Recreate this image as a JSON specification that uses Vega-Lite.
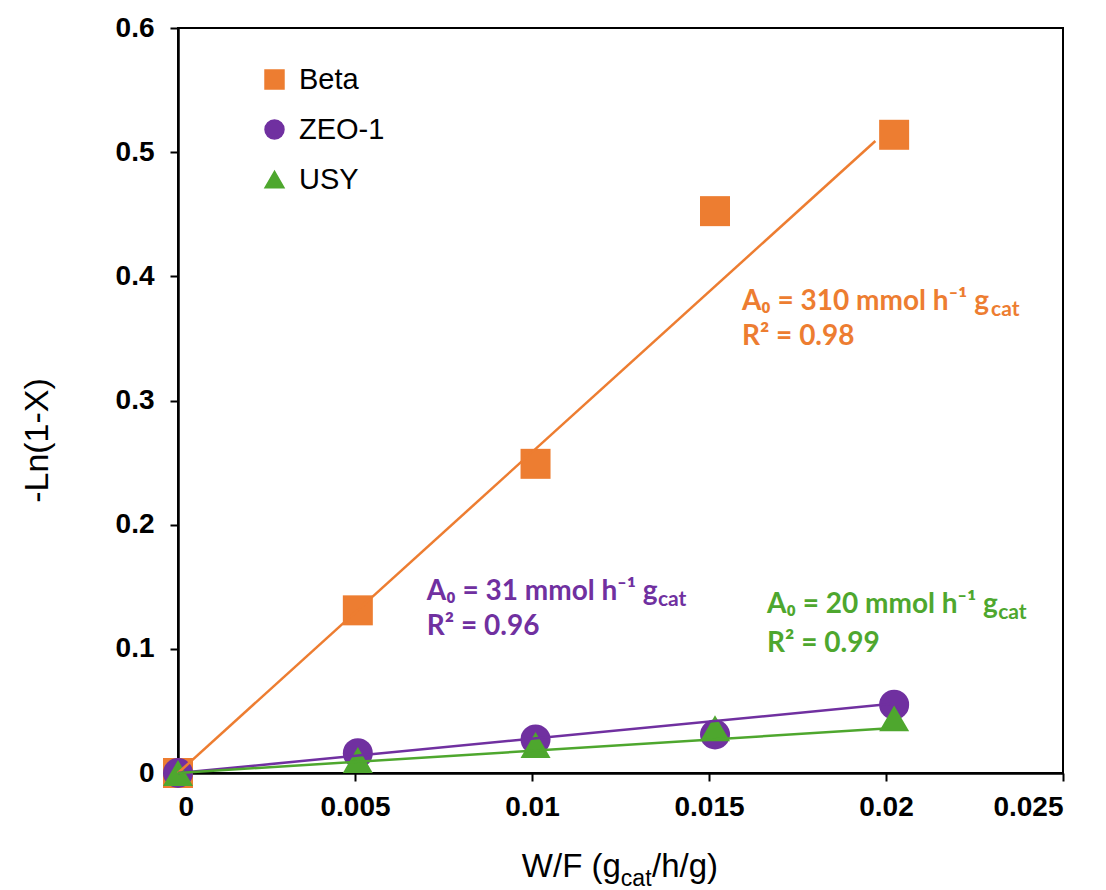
{
  "$schema": "https://vega.github.io/schema/vega-lite/v6.json",
  "width": 885,
  "height": 745,
  "autosize": "none",
  "padding": {"left": 178, "top": 28, "right": 43, "bottom": 117},
  "background": "white",
  "config": {
    "font": "Liberation Sans",
    "view": {"stroke": "black", "strokeWidth": 2},
    "axis": {
      "grid": false,
      "domainColor": "black",
      "domainWidth": 2.5,
      "tickColor": "black",
      "tickWidth": 2,
      "tickSize": 8,
      "labelColor": "black",
      "labelFont": "Liberation Sans",
      "labelFontWeight": "bold",
      "labelFontSize": 28,
      "titleColor": "black",
      "titleFont": "Liberation Sans",
      "titleFontWeight": "normal",
      "titleFontSize": 34
    },
    "legend": {"labelFont": "Liberation Sans", "labelFontSize": 29, "labelColor": "black"}
  },
  "datasets": {
    "points": [
      {"series": "Beta", "wf": 0, "val": 0},
      {"series": "Beta", "wf": 0.00508, "val": 0.131},
      {"series": "Beta", "wf": 0.0101, "val": 0.249},
      {"series": "Beta", "wf": 0.01517, "val": 0.4525},
      {"series": "Beta", "wf": 0.02023, "val": 0.514},
      {"series": "ZEO-1", "wf": 0, "val": 0},
      {"series": "ZEO-1", "wf": 0.00508, "val": 0.016},
      {"series": "ZEO-1", "wf": 0.0101, "val": 0.027},
      {"series": "ZEO-1", "wf": 0.01517, "val": 0.031},
      {"series": "ZEO-1", "wf": 0.02023, "val": 0.055},
      {"series": "USY", "wf": 0, "val": 0},
      {"series": "USY", "wf": 0.00508, "val": 0.0105},
      {"series": "USY", "wf": 0.0101, "val": 0.0225},
      {"series": "USY", "wf": 0.01517, "val": 0.036},
      {"series": "USY", "wf": 0.02023, "val": 0.044}
    ],
    "fits": [
      {"series": "Beta", "wf": 0, "val": 0},
      {"series": "Beta", "wf": 0.0197, "val": 0.509},
      {"series": "ZEO-1", "wf": 0, "val": 0},
      {"series": "ZEO-1", "wf": 0.0201, "val": 0.0555},
      {"series": "USY", "wf": 0, "val": 0},
      {"series": "USY", "wf": 0.0201, "val": 0.036}
    ],
    "notes": [
      {"series": "Beta", "jx": 0.02294, "sx": 0.01593, "y1": 0.3728, "y2": 0.3446, "main": "A₀ = 310 mmol h⁻¹ g", "sub": "cat", "r2": "R² = 0.98"},
      {"series": "ZEO-1", "jx": 0.01353, "sx": 0.00703, "y1": 0.1393, "y2": 0.1111, "main": "A₀ = 31 mmol h⁻¹ g", "sub": "cat", "r2": "R² = 0.96"},
      {"series": "USY", "jx": 0.02314, "sx": 0.01664, "y1": 0.1288, "y2": 0.0974, "main": "A₀ = 20 mmol h⁻¹ g", "sub": "cat", "r2": "R² = 0.99"}
    ],
    "xtitle": [
      {"jx": 0.01251, "ex": 0.01339, "y": -0.0837, "main": "W/F (g", "sub": "cat", "tail": "/h/g)"}
    ]
  },
  "layer": [
    {
      "data": {"name": "points"},
      "mark": {"type": "point", "filled": true, "opacity": 1, "size": 900},
      "encoding": {
        "x": {
          "field": "wf", "type": "quantitative",
          "scale": {"domain": [0, 0.025], "nice": false, "zero": false},
          "axis": {"values": [0, 0.005, 0.01, 0.015, 0.02, 0.025], "format": "~g", "title": null, "labelPadding": 12}
        },
        "y": {
          "field": "val", "type": "quantitative",
          "scale": {"domain": [0, 0.6], "nice": false},
          "axis": {"values": [0, 0.1, 0.2, 0.3, 0.4, 0.5, 0.6], "format": "~g", "title": "-Ln(1-X)", "labelPadding": 16, "titleX": -124, "titleY": 412, "titleAngle": -90, "titleAlign": "center", "titleBaseline": "bottom"}
        },
        "color": {
          "field": "series", "type": "nominal",
          "scale": {"domain": ["Beta", "ZEO-1", "USY"], "range": ["#ED7D31", "#7030A0", "#4EA72E"]},
          "legend": {
            "title": null, "orient": "none", "legendX": 82, "legendY": 37,
            "symbolSize": 360, "rowPadding": 20, "labelOffset": 10, "symbolOpacity": 1
          }
        },
        "shape": {
          "field": "series", "type": "nominal",
          "scale": {"domain": ["Beta", "ZEO-1", "USY"], "range": ["square", "circle", "triangle-up"]},
          "legend": {
            "title": null, "orient": "none", "legendX": 82, "legendY": 37,
            "symbolSize": 360, "rowPadding": 20, "labelOffset": 10, "symbolOpacity": 1
          }
        }
      }
    },
    {
      "data": {"name": "fits"},
      "mark": {"type": "line", "strokeWidth": 2.5},
      "encoding": {
        "x": {"field": "wf", "type": "quantitative"},
        "y": {"field": "val", "type": "quantitative"},
        "detail": {"field": "series"},
        "stroke": {
          "field": "series", "type": "nominal",
          "scale": {"domain": ["Beta", "ZEO-1", "USY"], "range": ["#ED7D31", "#7030A0", "#4EA72E"]},
          "legend": null
        }
      }
    },
    {
      "data": {"name": "notes"},
      "mark": {"type": "text", "align": "left", "baseline": "alphabetic", "font": "Lato", "fontWeight": "bold", "fontSize": 28},
      "encoding": {
        "x": {"field": "sx", "type": "quantitative"},
        "y": {"field": "y1", "type": "quantitative"},
        "text": {"field": "main"},
        "fill": {"field": "series", "type": "nominal", "scale": {"domain": ["Beta", "ZEO-1", "USY"], "range": ["#ED7D31", "#7030A0", "#4EA72E"]}, "legend": null}
      }
    },
    {
      "data": {"name": "notes"},
      "mark": {"type": "text", "align": "left", "baseline": "alphabetic", "font": "Lato", "fontWeight": "bold", "fontSize": 21, "dy": 6, "dx": 1},
      "encoding": {
        "x": {"field": "jx", "type": "quantitative"},
        "y": {"field": "y1", "type": "quantitative"},
        "text": {"field": "sub"},
        "fill": {"field": "series", "type": "nominal", "legend": null}
      }
    },
    {
      "data": {"name": "notes"},
      "mark": {"type": "text", "align": "left", "baseline": "alphabetic", "font": "Lato", "fontWeight": "bold", "fontSize": 28},
      "encoding": {
        "x": {"field": "sx", "type": "quantitative"},
        "y": {"field": "y2", "type": "quantitative"},
        "text": {"field": "r2"},
        "fill": {"field": "series", "type": "nominal", "legend": null}
      }
    },
    {
      "data": {"name": "xtitle"},
      "mark": {"type": "text", "align": "right", "baseline": "alphabetic", "fontSize": 33, "color": "black"},
      "encoding": {
        "x": {"field": "jx", "type": "quantitative"},
        "y": {"field": "y", "type": "quantitative"},
        "text": {"field": "main"}
      }
    },
    {
      "data": {"name": "xtitle"},
      "mark": {"type": "text", "align": "left", "baseline": "alphabetic", "fontSize": 23, "dy": 9, "color": "black"},
      "encoding": {
        "x": {"field": "jx", "type": "quantitative"},
        "y": {"field": "y", "type": "quantitative"},
        "text": {"field": "sub"}
      }
    },
    {
      "data": {"name": "xtitle"},
      "mark": {"type": "text", "align": "left", "baseline": "alphabetic", "fontSize": 33, "color": "black"},
      "encoding": {
        "x": {"field": "ex", "type": "quantitative"},
        "y": {"field": "y", "type": "quantitative"},
        "text": {"field": "tail"}
      }
    }
  ]
}
